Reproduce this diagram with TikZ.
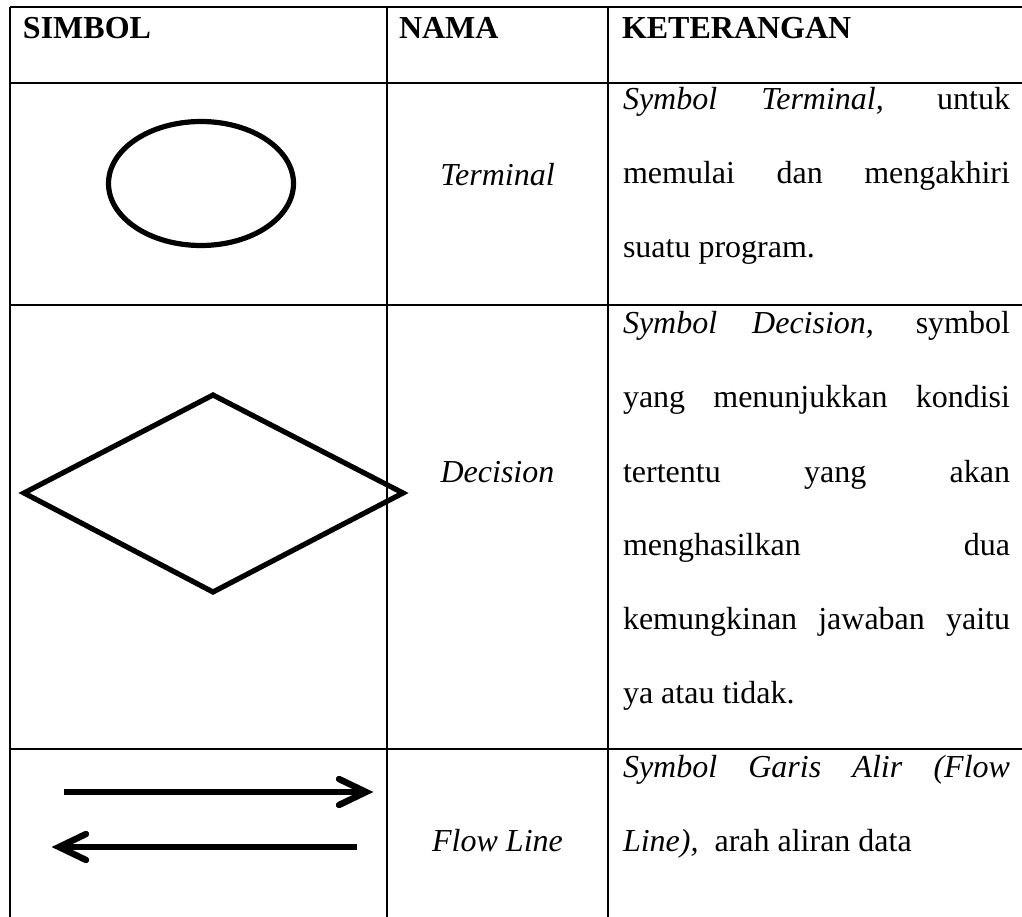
\documentclass[tikz,border=0pt]{standalone}
\usepackage{fontspec}
\setmainfont{Liberation Serif}
\begin{document}
\begin{tikzpicture}[x=1pt,y=-1pt,
  grid/.style={line width=2.6pt,black},
  cell/.style={inner sep=0pt,outer sep=0pt,font=\fontsize{32}{74}\selectfont},
  head/.style={cell,anchor=base west,font=\fontsize{32}{74}\selectfont\bfseries},
  namecell/.style={cell,anchor=base},
  desc/.style={cell,anchor=base west},
  symline/.style={line width=5.2pt,black},
  flow/.style={line width=6.4pt,black}]
\useasboundingbox (0,0) rectangle (1022,917);

% table rules (no right or bottom border)
\draw[grid] (10,7) -- (1022,7);
\draw[grid] (10,83) -- (1022,83);
\draw[grid] (10,305) -- (1022,305);
\draw[grid] (10,749) -- (1022,749);
\draw[grid] (10,7) -- (10,917);
\draw[grid] (387,7) -- (387,917);
\draw[grid] (608,7) -- (608,917);

% header
\node[head] (hsym) at (23,39) {SIMBOL};
\node[head] (hname) at (399,39) {NAMA};
\node[head] (hdesc) at (622,39) {KETERANGAN};

% symbols
\draw[symline] (201,183.5) ellipse [x radius=92.5, y radius=62];
\draw[symline,line join=miter] (24,493) -- (213,395) -- (403,493) -- (213,592) -- cycle;

\coordinate (fa) at (64,792);
\coordinate (fb) at (366,792);
\draw[flow] (fa) -- ([xshift=-3pt]fb);
\draw[flow,line cap=round,line join=miter] (fb) ++(-27,-13) -- (fb) -- +(-27,13);

\coordinate (ga) at (357,847);
\coordinate (gb) at (59,847);
\draw[flow] (ga) -- ([xshift=3pt]gb);
\draw[flow,line cap=round,line join=miter] (gb) ++(27,-13) -- (gb) -- +(27,13);

% names
\node[namecell] (nterm) at (497.5,186) {\itshape Terminal};
\node[namecell] (ndec) at (497.5,482) {\itshape Decision};
\node[namecell] (nflow) at (497.5,851) {\itshape Flow Line};

% descriptions
\node[desc] (d1) at (623,110) {\makebox[387pt][s]{\textit{Symbol} \textit{Terminal,} untuk}};
\node[desc] (d2) at (623,184) {\makebox[387pt][s]{memulai dan mengakhiri}};
\node[desc] (d3) at (623,258) {suatu program.};

\node[desc] (e1) at (623,333) {\makebox[387pt][s]{\textit{Symbol} \textit{Decision,} symbol}};
\node[desc] (e2) at (623,407) {\makebox[387pt][s]{yang menunjukkan kondisi}};
\node[desc] (e3) at (623,482) {\makebox[387pt][s]{tertentu yang akan}};
\node[desc] (e4) at (623,555) {\makebox[387pt][s]{menghasilkan dua}};
\node[desc] (e5) at (623,629) {\makebox[387pt][s]{kemungkinan jawaban yaitu}};
\node[desc] (e6) at (623,703) {ya atau tidak.};

\node[desc] (f1) at (623,777) {\makebox[387pt][s]{\textit{Symbol} \textit{Garis} \textit{Alir} \textit{(Flow}}};
\node[desc] (f2) at (623,851) {\textit{Line),}\ \ arah aliran data};
\end{tikzpicture}
\end{document}
